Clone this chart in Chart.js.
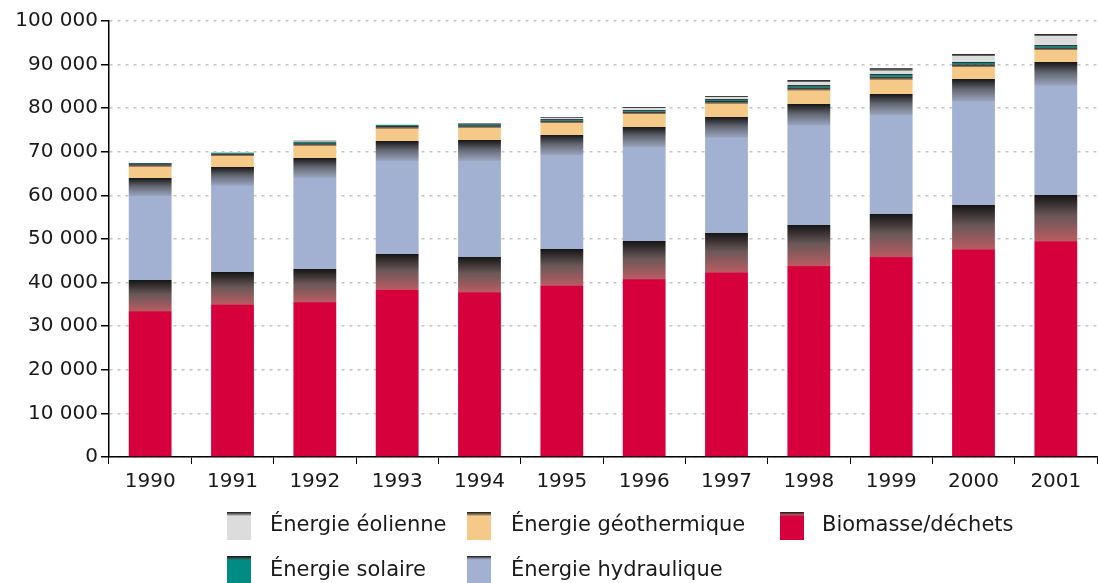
<!DOCTYPE html>
<html>
<head>
<meta charset="utf-8">
<script src="https://cdn.jsdelivr.net/npm/chart.js@4/dist/chart.umd.min.js"></script>
<style>
  body { margin: 0; background: #fff; }
  #wrap { position: relative; width: 1098px; height: 583px; overflow: hidden; }
  .item { position: absolute; font: 21px "DejaVu Sans", Verdana, sans-serif; color: #1a1a1a; white-space: nowrap; }
  .box { position: absolute; width: 24px; height: 28px; }
</style>
</head>
<body>
<div id="wrap">
  <canvas id="myChart" width="1098" height="583"></canvas>
</div>
<script>
const years = ["1990", "1991", "1992", "1993", "1994", "1995", "1996", "1997", "1998", "1999", "2000", "2001"];
const biomasse = [40600, 42440, 43130, 46570, 45880, 47720, 49550, 51390, 53220, 55740, 57810, 60100];
const hydraulique = [23400, 24090, 25460, 25920, 26840, 26150, 26150, 26610, 27760, 27530, 28900, 30510];
const geothermique = [3140, 3050, 3370, 3440, 3370, 3280, 3510, 3670, 3740, 3970, 3290, 3290];
const solaire = [300, 200, 370, 230, 400, 390, 390, 460, 620, 620, 610, 610];
const eolienne = [60, 200, 230, 230, 60, 460, 690, 680, 1140, 1310, 1840, 2520];
const yTicks = [0, 10000, 20000, 30000, 40000, 50000, 60000, 70000, 80000, 90000, 100000];

// stack order, bottom first
const series = [
  {label: "Biomasse/déchets", data: biomasse, color: "#d6003d", half: "#6a5858", mid: "#b85c62"},
  {label: "Énergie hydraulique", data: hydraulique, color: "#a2b1d2", half: "#626670", mid: "#98a3bc"},
  {label: "Énergie géothermique", data: geothermique, color: "#f5c987", half: "#5a5048", mid: "#a98a66"},
  {label: "Énergie solaire", data: solaire, color: "#008c82", half: "#2a3a38", mid: "#2d6662"},
  {label: "Énergie éolienne", data: eolienne, color: "#dcdcdc", half: "#4a4a4a", mid: "#9a9a9a"}
];

function fmt(v) {
  return String(v).replace(/\B(?=(\d{3})+(?!\d))/g, " ");
}

// dark shading at the top of every segment
function shade(s, di) {
  return function(c) {
    const chart = c.chart;
    if (c.type !== "data" || !chart.chartArea || !chart.scales.y) return s.color;
    let base = 0;
    for (let k = 0; k < di; k++) base += series[k].data[c.dataIndex];
    const y = chart.scales.y;
    const top = y.getPixelForValue(base + s.data[c.dataIndex]);
    const bottom = y.getPixelForValue(base);
    const h = bottom - top;
    if (h < 1) return s.color;
    const f = Math.min(0.5, Math.max(0.18, 2.5 / h));
    const g = chart.ctx.createLinearGradient(0, top, 0, bottom);
    g.addColorStop(0, "#151515");
    g.addColorStop(f * 0.45, s.half);
    g.addColorStop(f * 0.97, s.mid);
    g.addColorStop(f, s.color);
    g.addColorStop(1, s.color);
    return g;
  };
}

new Chart("myChart", {
  type: "bar",
  data: {
    labels: years,
    datasets: series.map(function(s, i) {
      return {
        label: s.label,
        data: s.data,
        backgroundColor: shade(s, i),
        borderWidth: 0,
        barPercentage: 0.52,
        categoryPercentage: 1
      };
    })
  },
  options: {
    responsive: false,
    animation: false,
    layout: {padding: {left: 0, top: 21, right: 1, bottom: 81}},
    plugins: {
      legend: {display: false},
      tooltip: {enabled: false}
    },
    scales: {
      x: {
        stacked: true,
        offset: true,
        grid: {offset: true, drawOnChartArea: false, color: "#000", tickLength: 7, tickColor: "#000"},
        border: {color: "#000", width: 1.5},
        ticks: {color: "#1a1a1a", font: {family: "DejaVu Sans", size: 20}, padding: 6, maxRotation: 0},
        afterFit: function(scale) { scale.height = 45; }
      },
      y: {
        stacked: true,
        min: 0,
        max: 100000,
        afterBuildTicks: function(scale) { scale.ticks = yTicks.map(function(v) { return {value: v}; }); },
        grid: {color: "#c4c4c4", lineWidth: 1.6, tickColor: "#000", tickLength: 8, tickWidth: 1.5, tickBorderDash: [1, 0]},
        border: {color: "#000", width: 1.5, dash: [3, 5]},
        ticks: {color: "#1a1a1a", font: {family: "DejaVu Sans", size: 20}, padding: 3, callback: function(v) { return fmt(v); }},
        afterFit: function(scale) { scale.width = 109; }
      }
    }
  }
});

// legend, two rows, filled column by column
const wrap = document.getElementById("wrap");
const legendOrder = [4, 3, 2, 1, 0];
const cols = [{box: 227, text: 270}, {box: 467, text: 511}, {box: 780, text: 822}];
const rows = [{box: 512, text: 512}, {box: 556, text: 557}];
legendOrder.forEach(function(si, n) {
  const s = series[si];
  const col = cols[Math.floor(n / 2)];
  const row = rows[n % 2];
  const b = document.createElement("div");
  b.className = "box";
  b.style.left = col.box + "px";
  b.style.top = row.box + "px";
  b.style.background = "linear-gradient(to bottom, #151515 0px, " + s.mid + " 3px, " + s.color + " 4px, " + s.color + " 100%)";
  wrap.appendChild(b);
  const t = document.createElement("div");
  t.className = "item";
  t.style.left = col.text + "px";
  t.style.top = row.text + "px";
  t.textContent = s.label;
  wrap.appendChild(t);
});
</script>
</body>
</html>
